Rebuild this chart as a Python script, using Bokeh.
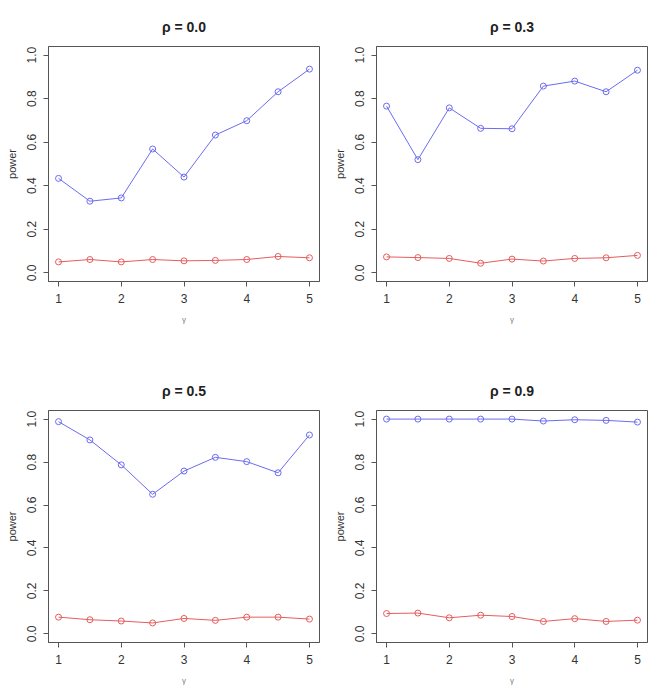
from bokeh.plotting import figure
from bokeh.layouts import gridplot
from bokeh.models import Range1d, FixedTicker
from bokeh.embed import file_html
from bokeh.resources import INLINE

gamma = [1, 1.5, 2, 2.5, 3, 3.5, 4, 4.5, 5]
titles = ["ρ = 0.0", "ρ = 0.3", "ρ = 0.5", "ρ = 0.9"]
blue_00 = [0.434, 0.329, 0.344, 0.569, 0.440, 0.633, 0.699, 0.832, 0.936]
red_00 = [0.050, 0.061, 0.050, 0.061, 0.055, 0.057, 0.061, 0.075, 0.069]
blue_03 = [0.766, 0.520, 0.758, 0.664, 0.662, 0.858, 0.881, 0.832, 0.931]
red_03 = [0.073, 0.070, 0.066, 0.044, 0.063, 0.054, 0.066, 0.069, 0.080]
blue_05 = [0.988, 0.903, 0.787, 0.650, 0.758, 0.822, 0.802, 0.750, 0.926]
red_05 = [0.078, 0.066, 0.060, 0.051, 0.072, 0.063, 0.078, 0.078, 0.069]
blue_09 = [1.0, 1.0, 1.0, 1.0, 1.0, 0.991, 0.997, 0.994, 0.986]
red_09 = [0.095, 0.097, 0.075, 0.087, 0.081, 0.058, 0.071, 0.058, 0.064]
x_ticks = [1, 2, 3, 4, 5]
y_ticks = [0.0, 0.2, 0.4, 0.6, 0.8, 1.0]

BLUE = "#6b6bf2"
RED = "#e65c5c"
FONT = "Liberation Sans"


def panel(title, blue, red, width, height, right_border, bottom_border):
    p = figure(width=width, height=height, output_backend="svg", toolbar_location=None,
               x_range=Range1d(0.84, 5.16), y_range=Range1d(-0.04, 1.04),
               min_border_left=48, min_border_right=right_border,
               min_border_top=46, min_border_bottom=bottom_border)
    p.title.text = title
    p.title.align = "center"
    p.title.text_font = FONT
    p.title.text_font_size = "14px"
    p.title.text_font_style = "bold"
    p.title.text_color = "#222222"
    p.title.standoff = 24
    p.xgrid.visible = False
    p.ygrid.visible = False
    p.outline_line_color = "#555555"
    p.outline_line_width = 1
    p.background_fill_color = "white"
    p.border_fill_color = "white"

    p.xaxis.ticker = FixedTicker(ticks=x_ticks)
    p.yaxis.ticker = FixedTicker(ticks=y_ticks)
    p.yaxis.major_label_overrides = {v: f"{v:.1f}" for v in y_ticks}
    p.yaxis.major_label_orientation = "vertical"
    for ax in (p.xaxis[0], p.yaxis[0]):
        ax.axis_line_color = "#555555"
        ax.major_tick_line_color = "#555555"
        ax.major_tick_out = 5
        ax.major_tick_in = 0
        ax.minor_tick_line_color = None
        ax.major_label_text_font = FONT
        ax.major_label_text_font_size = "12px"
        ax.major_label_text_color = "#333333"
        ax.major_label_standoff = 7
        ax.axis_label_text_font = FONT
        ax.axis_label_text_font_style = "normal"
    p.xaxis.axis_label = "γ"
    p.xaxis.axis_label_text_font_size = "8px"
    p.xaxis.axis_label_text_color = "#777777"
    p.xaxis.axis_label_standoff = 9
    p.yaxis.axis_label = "power"
    p.yaxis.axis_label_text_font_size = "11px"
    p.yaxis.axis_label_text_color = "#333333"
    p.yaxis.axis_label_standoff = 7

    for ys, c in ((blue, BLUE), (red, RED)):
        p.line(gamma, ys, line_color=c, line_width=1)
        p.scatter(gamma, ys, marker="circle", size=6, fill_color=None,
                  line_color=c, line_width=1)
    return p


p1 = panel(titles[0], blue_00, red_00, 328, 364, 9, 83)
p2 = panel(titles[1], blue_03, red_03, 324, 364, 5, 83)
p3 = panel(titles[2], blue_05, red_05, 328, 323, 9, 42)
p4 = panel(titles[3], blue_09, red_09, 324, 323, 5, 42)

grid = gridplot([[p1, p2], [p3, p4]], toolbar_location=None)
open("out.html", "w").write(file_html(grid, INLINE))
